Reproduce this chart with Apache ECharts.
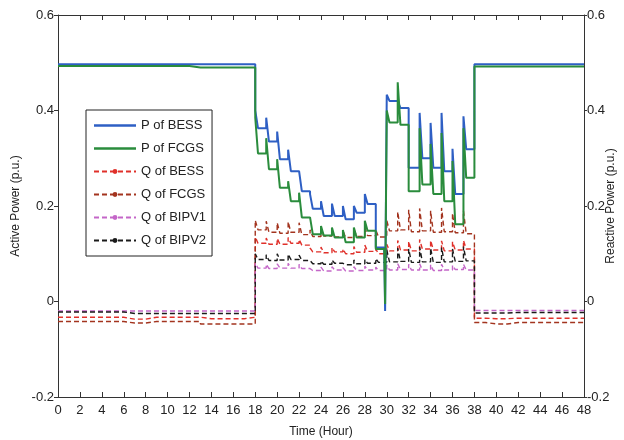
<!DOCTYPE html>
<html>
<head>
<meta charset="utf-8">
<script src="https://cdn.jsdelivr.net/npm/echarts@6/dist/echarts.min.js"></script>
<style>
html,body{margin:0;padding:0;background:#fff;}
#chart{width:624px;height:440px;}
</style>
</head>
<body>
<div id="chart"></div>
<script>
// ---- data (hourly, 0..47) ----
const seriesNames = ['P of BESS', 'P of FCGS', 'Q of BESS', 'Q of FCGS', 'Q of BIPV1', 'Q of BIPV2'];
const xTickLabels = ['0','2','4','6','8','10','12','14','16','18','20','22','24','26','28','30','32','34','36','38','40','42','44','46','48'];
const yTickLabels = ['-0.2', '0', '0.2', '0.4', '0.6'];

// Active power of BESS: hourly level and the spike at the start of each hour
const pBessBase = [0.497,0.497,0.497,0.497,0.497,0.497,0.497,0.497,0.497,0.497,0.497,0.497,0.497,0.497,0.497,0.497,0.497,0.497,
  0.363,0.335,0.298,0.273,0.231,0.194,0.179,0.179,0.172,0.186,0.204,0.113,0.42,0.405,0.28,0.30,0.28,0.273,0.225,0.319,
  0.497,0.497,0.497,0.497,0.497,0.497,0.497,0.497,0.497,0.497];
const pBessPeak = [null,null,null,null,null,null,null,null,null,null,null,null,null,null,null,null,null,null,
  0.40,0.385,0.356,0.318,0.27,0.225,0.21,0.205,0.2,0.2,0.225,null,0.433,0.42,null,0.395,0.374,0.395,0.32,0.388,
  null,null,null,null,null,null,null,null,null,null];
const pBessDip = {hour: 30, time: 29.85, value: -0.02};

// Active power of FCGS
const pFcgsBase = [0.493,0.493,0.493,0.493,0.493,0.493,0.493,0.493,0.493,0.493,0.493,0.493,0.49,0.49,0.49,0.49,0.49,0.49,
  0.31,0.277,0.238,0.21,0.176,0.141,0.138,0.134,0.124,0.134,0.148,0.11,0.375,0.37,0.231,0.245,0.225,0.21,0.162,0.259,
  0.492,0.492,0.492,0.492,0.492,0.492,0.492,0.492,0.492,0.492];
const pFcgsPeak = [null,null,null,null,null,null,null,null,null,null,null,null,null,null,null,null,null,null,
  0.385,0.342,0.298,0.252,0.228,0.18,0.158,0.155,0.15,0.155,0.169,null,0.40,0.459,null,0.363,0.33,0.353,0.294,0.363,
  null,null,null,null,null,null,null,null,null,null];
const pFcgsDip = {hour: 30, time: 29.85, value: -0.005};

// Reactive power of BESS
const qBessBase = [-0.033,-0.033,-0.033,-0.033,-0.033,-0.033,-0.037,-0.037,-0.033,-0.033,-0.033,-0.033,-0.033,-0.036,-0.036,-0.036,-0.036,-0.033,
  0.122,0.12,0.12,0.122,0.118,0.104,0.102,0.104,0.1,0.103,0.105,0.1,0.106,0.108,0.106,0.11,0.108,0.106,0.108,0.11,
  -0.035,-0.036,-0.036,-0.035,-0.035,-0.035,-0.035,-0.035,-0.035,-0.035];
const qBessPeak = [null,null,null,null,null,null,null,null,null,null,null,null,null,null,null,null,null,null,
  0.135,0.133,0.132,0.134,0.13,0.112,0.114,0.113,0.11,0.115,0.118,0.11,0.12,0.128,0.126,0.13,0.128,0.127,0.125,0.128,
  null,null,null,null,null,null,null,null,null,null];

// Reactive power of FCGS
const qFcgsBase = [-0.042,-0.042,-0.042,-0.042,-0.042,-0.042,-0.045,-0.045,-0.042,-0.042,-0.042,-0.042,-0.042,-0.047,-0.047,-0.047,-0.047,-0.047,
  0.15,0.145,0.143,0.145,0.14,0.136,0.137,0.135,0.134,0.136,0.138,0.135,0.148,0.15,0.146,0.148,0.145,0.146,0.144,0.142,
  -0.044,-0.047,-0.047,-0.044,-0.044,-0.044,-0.044,-0.044,-0.044,-0.044];
const qFcgsPeak = [null,null,null,null,null,null,null,null,null,null,null,null,null,null,null,null,null,null,
  0.17,0.168,0.165,0.167,0.165,0.15,0.152,0.15,0.148,0.152,0.155,0.15,0.17,0.188,0.192,0.195,0.19,0.196,0.185,0.19,
  null,null,null,null,null,null,null,null,null,null];

// Reactive power of BIPV1
const qBipv1Base = [-0.02,-0.02,-0.02,-0.02,-0.02,-0.02,-0.02,-0.02,-0.02,-0.02,-0.02,-0.02,-0.02,-0.02,-0.02,-0.02,-0.02,-0.02,
  0.07,0.069,0.07,0.07,0.069,0.065,0.064,0.066,0.064,0.065,0.066,0.065,0.066,0.067,0.066,0.066,0.065,0.066,0.067,0.066,
  -0.019,-0.019,-0.019,-0.019,-0.019,-0.019,-0.019,-0.019,-0.019,-0.019];
const qBipv1Peak = [null,null,null,null,null,null,null,null,null,null,null,null,null,null,null,null,null,null,
  0.08,0.078,0.079,0.08,0.078,0.072,0.072,0.073,0.071,0.073,0.074,0.072,0.076,0.079,0.078,0.079,0.077,0.078,0.076,0.078,
  null,null,null,null,null,null,null,null,null,null];

// Reactive power of BIPV2
const qBipv2Base = [-0.022,-0.022,-0.022,-0.022,-0.022,-0.022,-0.025,-0.025,-0.025,-0.025,-0.025,-0.025,-0.025,-0.025,-0.025,-0.025,-0.025,-0.025,
  0.088,0.086,0.087,0.088,0.086,0.079,0.078,0.08,0.077,0.079,0.08,0.082,0.083,0.084,0.082,0.083,0.082,0.083,0.084,0.085,
  -0.024,-0.024,-0.024,-0.023,-0.023,-0.023,-0.023,-0.023,-0.023,-0.023];
const qBipv2Peak = [null,null,null,null,null,null,null,null,null,null,null,null,null,null,null,null,null,null,
  0.1,0.098,0.1,0.099,0.097,0.086,0.085,0.087,0.084,0.087,0.088,0.09,0.108,0.112,0.11,0.114,0.112,0.113,0.11,0.115,
  null,null,null,null,null,null,null,null,null,null];

// ---- build step paths from the hourly readings ----
function buildPath(base, peak, dip) {
  const pts = [];
  for (let h = 0; h < base.length; h++) {
    if (dip && h === dip.hour) {
      pts.push([dip.time - 0.08, base[h - 1]]);
      pts.push([dip.time, dip.value]);
    } else if (h > 0) {
      pts.push([h, base[h - 1]]);
    }
    const p = peak[h];
    if (p != null && p !== base[h]) {
      pts.push([h, p]);
      pts.push([h + 0.25, base[h]]);
    } else {
      pts.push([h, base[h]]);
    }
  }
  pts.push([base.length, base[base.length - 1]]);
  return pts;
}

const chart = echarts.init(document.getElementById('chart'), null, {renderer: 'canvas'});
const FONT = '"Liberation Sans Narrow", "Liberation Sans", Arial, sans-serif';
const AX = '#333';
const pIcon = 'path://M0,0L40,0L40,2.4L0,2.4Z';

function pSeries(i, color, data) {
  return {name: seriesNames[i], type: 'line', yAxisIndex: 0, data: data, symbol: 'none',
    lineStyle: {color: color, width: 2}, itemStyle: {color: color}, z: 3};
}
function qSeries(i, color, data) {
  return {name: seriesNames[i], type: 'line', yAxisIndex: 1, data: data, symbol: 'circle', symbolSize: 5, showSymbol: false,
    lineStyle: {color: color, width: 1.4, type: [5, 3]}, itemStyle: {color: color}, z: 2};
}

const xLab = v => { const i = xTickLabels.indexOf(String(v)); return i >= 0 ? xTickLabels[i] : ''; };
const yLab = v => { const r = Math.round(v * 10) / 10; const s = r === 0 ? '0' : r.toFixed(1); return yTickLabels.indexOf(s) >= 0 ? s : ''; };

chart.setOption({
  animation: false,
  backgroundColor: '#fff',
  textStyle: {fontFamily: FONT},
  grid: {left: 58, right: 40, top: 15, bottom: 43, containLabel: false, outerBoundsMode: 'none'},
  legend: {
    orient: 'vertical', left: 86, top: 110,
    backgroundColor: '#fff', borderColor: '#222', borderWidth: 1,
    padding: [9, 6, 9, 7], itemWidth: 42, itemHeight: 6, itemGap: 10,
    textStyle: {fontFamily: FONT, fontSize: 13, color: '#222'},
    data: [
      {name: seriesNames[0], icon: pIcon},
      {name: seriesNames[1], icon: pIcon},
      {name: seriesNames[2]},
      {name: seriesNames[3]},
      {name: seriesNames[4]},
      {name: seriesNames[5]}
    ]
  },
  xAxis: [
    {type: 'value', min: 0, max: 48, interval: 2, position: 'bottom',
      name: 'Time (Hour)', nameLocation: 'middle', nameGap: 29, nameMoveOverlap: false,
      nameTextStyle: {fontFamily: FONT, fontSize: 12, color: '#222'},
      axisLine: {onZero: false, lineStyle: {color: AX, width: 1}},
      axisTick: {inside: true, length: 5, lineStyle: {color: AX}},
      axisLabel: {formatter: xLab, fontFamily: FONT, fontSize: 13, color: '#222', margin: 7},
      splitLine: {show: false}},
    {type: 'value', min: 0, max: 48, interval: 2, position: 'top',
      axisLine: {onZero: false, lineStyle: {color: AX, width: 1}},
      axisTick: {inside: true, length: 5, lineStyle: {color: AX}},
      axisLabel: {show: false}, splitLine: {show: false}}
  ],
  yAxis: [
    {type: 'value', min: -0.2, max: 0.6, interval: 0.2, position: 'left',
      name: 'Active Power (p.u.)', nameLocation: 'middle', nameGap: 36, nameRotate: 90, nameMoveOverlap: false,
      nameTextStyle: {fontFamily: FONT, fontSize: 12, color: '#222'},
      axisLine: {show: true, onZero: false, lineStyle: {color: AX, width: 1}},
      axisTick: {show: true, inside: false, length: 4, lineStyle: {color: AX}},
      axisLabel: {formatter: yLab, fontFamily: FONT, fontSize: 13, color: '#222', margin: 4},
      splitLine: {show: false}},
    {type: 'value', min: -0.2, max: 0.6, interval: 0.2, position: 'right',
      name: 'Reactive Power (p.u.)', nameLocation: 'middle', nameGap: 21, nameRotate: 90, nameMoveOverlap: false,
      nameTextStyle: {fontFamily: FONT, fontSize: 12, color: '#222'},
      axisLine: {show: true, onZero: false, lineStyle: {color: AX, width: 1}},
      axisTick: {show: true, inside: false, length: 3, lineStyle: {color: AX}},
      axisLabel: {formatter: yLab, fontFamily: FONT, fontSize: 13, color: '#222', margin: 3},
      splitLine: {show: false}}
  ],
  series: [
    pSeries(0, '#2e5fc4', buildPath(pBessBase, pBessPeak, pBessDip)),
    pSeries(1, '#2a8c3c', buildPath(pFcgsBase, pFcgsPeak, pFcgsDip)),
    qSeries(2, '#e0302a', buildPath(qBessBase, qBessPeak)),
    qSeries(3, '#a3341f', buildPath(qFcgsBase, qFcgsPeak)),
    qSeries(4, '#c466c8', buildPath(qBipv1Base, qBipv1Peak)),
    qSeries(5, '#1a1a1a', buildPath(qBipv2Base, qBipv2Peak))
  ]
});
</script>
</body>
</html>
